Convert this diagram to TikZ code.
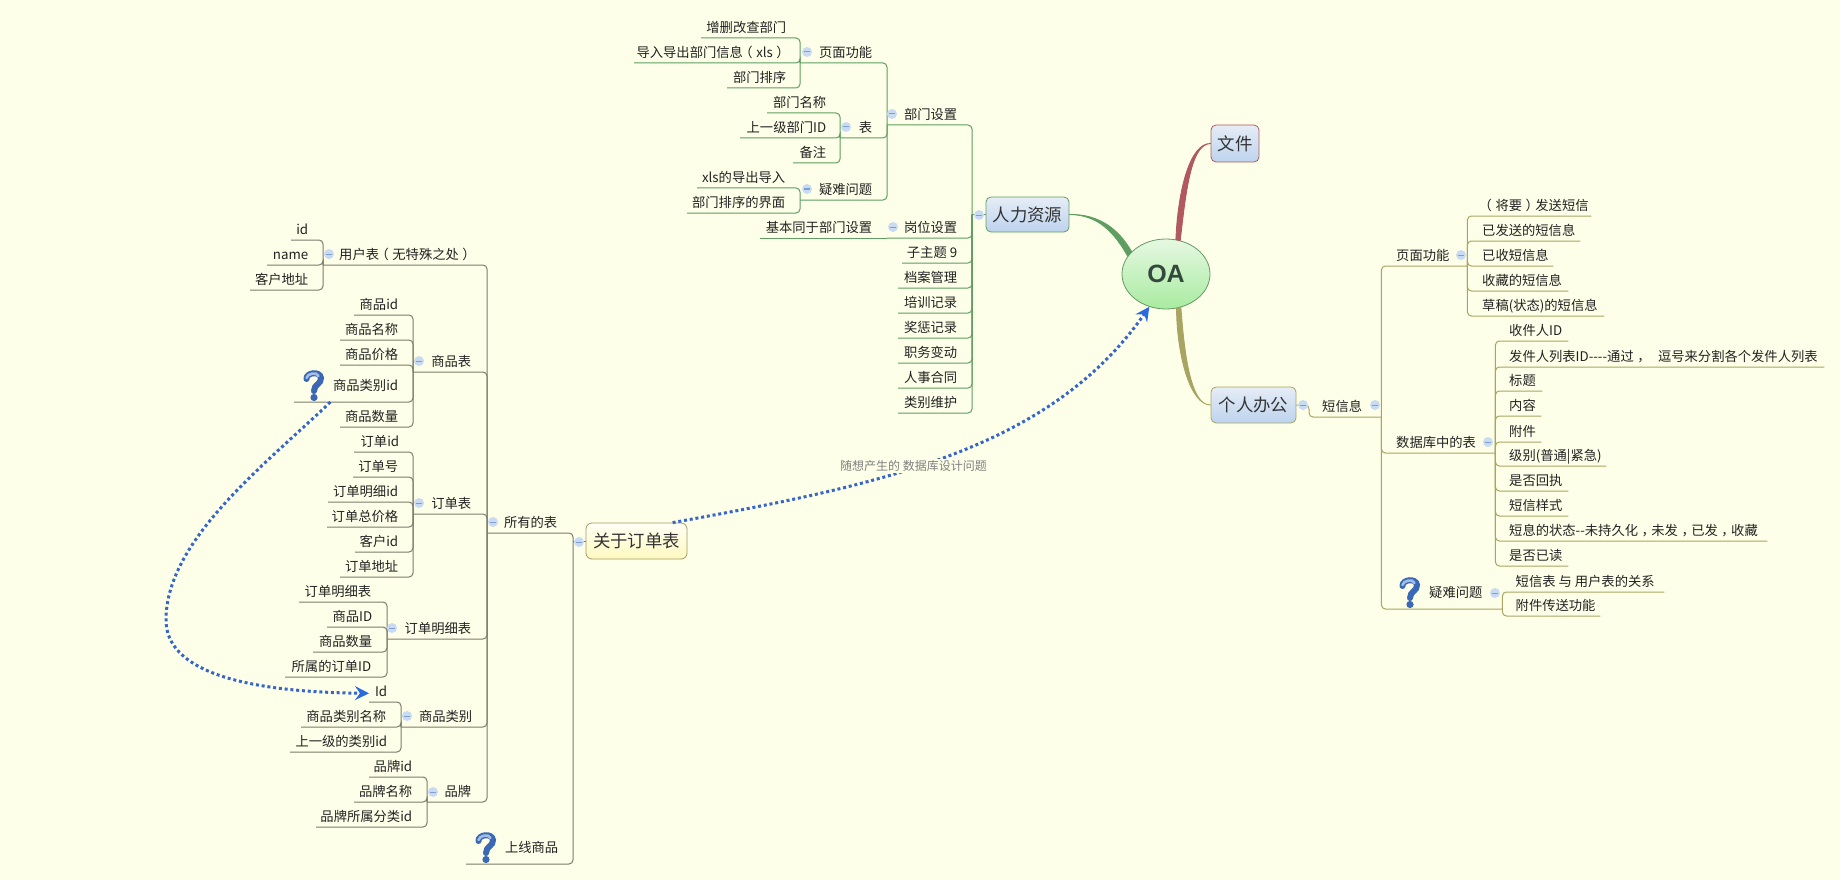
\documentclass[tikz,border=0pt]{standalone}
\usepackage{fontspec}
\usetikzlibrary{shapes.geometric,arrows.meta}
\newfontfamily\cjkf{Noto Sans CJK SC}
\newfontfamily\oaf{Liberation Sans}
\definecolor{bgc}{HTML}{FEFFE8}
\definecolor{grn}{HTML}{5F9E62}
\definecolor{olv}{HTML}{A8A562}
\definecolor{gry}{HTML}{7C7C6C}
\definecolor{redb}{HTML}{B05A60}
\definecolor{tpc}{HTML}{222222}
\definecolor{arrowc}{HTML}{3566C8}
\definecolor{tipc}{HTML}{2A6AE0}
\definecolor{glyphf}{HTML}{C9DBF3}
\definecolor{glyphl}{HTML}{7F9FD0}
\definecolor{boxt}{HTML}{E6EDF6}
\definecolor{boxb}{HTML}{BDD3EE}
\definecolor{oat}{HTML}{E6F8E2}
\definecolor{oab}{HTML}{A8EBA0}
\definecolor{oatx}{HTML}{33493C}
\definecolor{qdark}{HTML}{3A68B4}
\definecolor{qlight}{HTML}{A3BDE6}
\tikzset{
  topic/.style={inner sep=0pt,text height=12pt,text depth=5pt,text=tpc,font=\cjkf\fontsize{13.3pt}{16pt}\selectfont},
  conn/.style={line width=1pt,rounded corners=4pt},
  gconn/.style={conn,draw=grn},
  oconn/.style={conn,draw=olv},
  yconn/.style={conn,draw=gry},
  taper/.style={line width=0.9pt,line join=round},
  collapse/.style={circle,inner sep=0pt,minimum size=10pt,fill=glyphf,
    path picture={\draw[glyphl,line width=1pt] ([xshift=-2.6pt]path picture bounding box.center) -- ([xshift=2.6pt]path picture bounding box.center);}},
  bluebox/.style={rectangle,rounded corners=5pt,line width=0.8pt,inner sep=0pt,text=black!80,font=\cjkf\fontsize{17.4pt}{20pt}\selectfont,top color=boxt,bottom color=boxb},
  dotarrow/.style={draw=arrowc,line width=3pt,dash pattern=on 3pt off 2.8pt,-{Stealth[length=14pt,width=14pt,inset=5pt,color=tipc]}},
  qmark/.pic={
    \draw[line width=6pt,draw=qdark,line cap=round] (3.5,9) .. controls (3,2.5) and (17,0.5) .. (18,8) .. controls (18.5,14) and (11,14) .. (11,21);
    \draw[line width=2.6pt,draw=qlight,line cap=round] (3.5,8) .. controls (4,3.5) and (14,1.5) .. (15.5,6);
    \fill[qdark] (11,27.5) circle (3.6pt);
  }
}
\newcommand\LN[5]{\node[topic,anchor=south west] (#1) at (#2,#4) {\makebox[\dimexpr#3pt-#2pt\relax][r]{#5}};}
\newcommand\RN[6]{\node[topic,anchor=south west] (#1) at (#2,#5) {\makebox[\dimexpr#4pt-#2pt\relax][l]{\hspace*{\dimexpr#3pt-#2pt\relax}#6}};}
\newcommand\lpar{\kern-3.5pt（\kern3.5pt}
\newcommand\rpar{\kern3.5pt）\kern-3.5pt}
\newcommand\cma{\kern3.5pt，\kern-3.5pt}
\begin{document}
\begin{tikzpicture}[x=1pt,y=-1pt]
\fill[bgc] (0,0) rectangle (1840,880);
\useasboundingbox (0,0) rectangle (1840,880);

% central and main topics
\node[ellipse,minimum width=88pt,minimum height=70pt,inner sep=0pt,draw=gray!80!green,line width=0.8pt,top color=oat,bottom color=oab,text=oatx,font=\oaf\bfseries\fontsize{25pt}{28pt}\selectfont] (oa) at (1166,274) {OA};
\node[bluebox,draw=grn,minimum width=83pt,minimum height=35pt] (hr) at (1027.5,214.5) {人力资源};
\node[bluebox,draw=redb,minimum width=48pt,minimum height=37pt] (wj) at (1235,143.5) {文件};
\node[bluebox,draw=olv,minimum width=85pt,minimum height=36pt] (gr) at (1253.5,405) {个人办公};
\node[rectangle,rounded corners=6pt,line width=0.8pt,inner sep=0pt,draw=olv!80!gray,top color=yellow!4!white,bottom color=orange!20!yellow!25!white,text=black!80,font=\cjkf\fontsize{17.4pt}{20pt}\selectfont,minimum width=101pt,minimum height=36pt] (ob) at (636.5,541) {关于订单表};

\filldraw[grn,taper] (hr.east) .. controls (1098,214) and (1118,228) .. (oa.147) -- (oa.155) .. controls (1114,232) and (1098,214.8) .. (hr.east) -- cycle;
\filldraw[redb,taper] (wj.west) .. controls (1191,144) and (1186,190) .. (oa.67) -- (oa.74) .. controls (1178,190) and (1190,143) .. (wj.west) -- cycle;
\filldraw[olv,taper] (gr.west) .. controls (1190,406) and (1184,350) .. (oa.-66) -- (oa.-73) .. controls (1177,355) and (1190,405) .. (gr.west) -- cycle;

% human resources branch
\LN{za}{701}{786}{38}{增删改查部门}
\LN{zb}{634}{786}{63}{导入导出部门信息\lpar xls\rpar}
\LN{zc}{727}{786}{88}{部门排序}
\LN{ym}{800}{872}{63}{页面功能}
\LN{ba}{767}{826}{113}{部门名称}
\LN{bb}{740}{826}{138}{上一级部门ID}
\LN{bc}{793}{826}{163}{备注}
\LN{tb}{840}{872}{138}{表}
\LN{na}{697}{785}{188}{xls的导出导入}
\LN{nb}{687}{785}{213}{部门排序的界面}
\LN{nd}{800}{872}{200}{疑难问题}
\LN{bm}{887}{957}{125}{部门设置}
\LN{gj}{760}{872}{238}{基本同于部门设置}
\LN{gw}{887}{957}{238}{岗位设置}
\LN{hza}{902}{957}{263}{子主题 9}
\LN{hzb}{898}{957}{288}{档案管理}
\LN{hzc}{898}{957}{313}{培训记录}
\LN{hzd}{898}{957}{338}{奖惩记录}
\LN{hze}{898}{957}{363}{职务变动}
\LN{hzf}{898}{957}{388}{人事合同}
\LN{hzg}{898}{957}{413}{类别维护}
\coordinate (hrs) at (972,214.5);
\foreach \c in {za,zb,zc} \draw[gconn] (\c.south west) -| (ym.south west);
\foreach \c in {ba,bb,bc} \draw[gconn] (\c.south west) -| (tb.south west);
\foreach \c in {na,nb} \draw[gconn] (\c.south west) -| (nd.south west);
\foreach \c in {ym,tb,nd} \draw[gconn] (\c.south west) -| (bm.south west);
\draw[gconn] (gj.south west) -- (gw.south west);
\foreach \c in {bm,gw,hza,hzb,hzc,hzd,hze,hzf,hzg} \draw[gconn] (\c.south west) -| (hrs);
\draw[gconn] (hrs) -- (hr.west);

% personal office branch
\RN{dx}{1309}{1322}{1381}{417}{短信息}
\RN{pf}{1381}{1396}{1467}{266}{页面功能}
\RN{pa}{1467}{1482}{1591}{216}{\lpar 将要\rpar 发送短信}
\RN{pb}{1467}{1482}{1580}{241}{已发送的短信息}
\RN{pc}{1467}{1482}{1553}{266}{已收短信息}
\RN{pd}{1467}{1482}{1568}{291}{收藏的短信息}
\RN{pe}{1467}{1482}{1604}{316}{草稿(状态)的短信息}
\RN{db}{1381}{1396}{1495}{453}{数据库中的表}
\RN{da}{1495}{1509}{1568}{341}{收件人ID}
\RN{dc}{1495}{1509}{1824}{367}{发件人列表ID----通过\cma\hspace{8pt} 逗号来分割各个发件人列表}
\RN{dd}{1495}{1509}{1542}{391}{标题}
\RN{de}{1495}{1509}{1541}{416}{内容}
\RN{df}{1495}{1509}{1541}{442}{附件}
\RN{dg}{1495}{1509}{1606}{466}{级别(普通|紧急)}
\RN{dh}{1495}{1509}{1568}{491}{是否回执}
\RN{di}{1495}{1509}{1568}{516}{短信样式}
\RN{dj}{1495}{1509}{1767}{541}{短息的状态--未持久化\cma 未发\cma 已发\cma 收藏}
\RN{dk}{1495}{1509}{1568}{566}{是否已读}
\RN{qw}{1381}{1429}{1502}{609}{\raisebox{6pt}{疑难问题}}
\RN{qa}{1502}{1515.5}{1664}{592}{短信表 与 用户表的关系}
\RN{qb}{1502}{1515.5}{1600}{616}{附件传送功能}
\coordinate (grs) at (1309,405);
\foreach \c in {pa,pb,pc,pd,pe} \draw[oconn] (\c.south east) -| (pf.south east);
\foreach \c in {da,dc,dd,de,df,dg,dh,di,dj,dk} \draw[oconn] (\c.south east) -| (db.south east);
\foreach \c in {qa,qb} \draw[oconn] (\c.south east) -| (qw.south east);
\foreach \c in {pf,db,qw} \draw[oconn] (\c.south east) -| (dx.south east);
\draw[oconn] (dx.south east) -| (grs) -- (gr.east);

% order branch
\LN{ua}{291}{308}{240}{id}
\LN{ub}{267}{308}{265}{name}
\LN{uc}{250}{308}{290}{客户地址}
\LN{ut}{323}{472}{265}{用户表\lpar 无特殊之处\rpar}
\LN{sa}{354}{398}{315}{商品id}
\LN{sb}{340}{398}{340}{商品名称}
\LN{sc}{340}{398}{365}{商品价格}
\LN{sd}{294}{398}{402}{\raisebox{6pt}{商品类别id}}
\LN{se}{340}{398}{427}{商品数量}
\LN{st}{413}{471}{372}{商品表}
\LN{oa1}{354}{399}{452}{订单id}
\LN{oa2}{353}{398}{477}{订单号}
\LN{oa3}{328}{398}{502}{订单明细id}
\LN{oa4}{327}{398}{527}{订单总价格}
\LN{oa5}{355}{398}{552}{客户id}
\LN{oa6}{340}{398}{577}{订单地址}
\LN{ot}{413}{471}{514}{订单表}
\LN{ma}{299}{371}{602}{订单明细表}
\LN{mb}{327}{372}{627}{商品ID}
\LN{mc}{313}{372}{652}{商品数量}
\LN{md}{285}{371}{677}{所属的订单ID}
\LN{mt}{387}{471}{639}{订单明细表}
\LN{ca}{369}{387}{702}{Id}
\LN{cb}{301}{386}{727}{商品类别名称}
\LN{cc}{290}{387}{752}{上一级的类别id}
\LN{ct}{401}{472}{727}{商品类别}
\LN{ppa}{369}{412}{777}{品牌id}
\LN{ppb}{354}{412}{802}{品牌名称}
\LN{ppc}{316}{412}{827}{品牌所属分类id}
\LN{ppt}{427}{471}{802}{品牌}
\LN{all}{487}{557}{533}{所有的表}
\LN{sx}{466}{558}{864}{\raisebox{6pt}{上线商品}}
\coordinate (obs) at (573,541);
\foreach \c in {ua,ub,uc} \draw[yconn] (\c.south west) -| (ut.south west);
\foreach \c in {sa,sb,sc,sd,se} \draw[yconn] (\c.south west) -| (st.south west);
\foreach \c in {oa1,oa2,oa3,oa4,oa5,oa6} \draw[yconn] (\c.south west) -| (ot.south west);
\foreach \c in {ma,mb,mc,md} \draw[yconn] (\c.south west) -| (mt.south west);
\foreach \c in {ca,cb,cc} \draw[yconn] (\c.south west) -| (ct.south west);
\foreach \c in {ppa,ppb,ppc} \draw[yconn] (\c.south west) -| (ppt.south west);
\foreach \c in {ut,st,ot,mt,ct,ppt} \draw[yconn] (\c.south west) -| (all.south west);
\foreach \c in {all,sx} \draw[yconn] (\c.south west) -| (obs);
\draw[yconn] (obs) -- (ob.west);

% collapse marks
\foreach \n/\x/\y in {ga/807/52,gb/846/127,gc/807/189,gd/892/114,ge/893/227,gf/979/215,
  gg/1303/405,gh/1375/405,gi/1461/255,gj2/1488/442,gk/1495/593,
  gl/329/254,gm/419/361,gn/419/503,go/392/628,gp/407/716,gq/433/792,gr2/493/522,gs/579/542}
  \node[collapse] (\n) at (\x,\y) {};

% question marks
\pic at (303,370) {qmark};
\pic at (475,832) {qmark};
\pic at (1399,577) {qmark};

% relationship arrows
\draw[dotarrow] (ob.27) .. controls (880,485) and (1050,450) .. (oa.243);
\node[inner sep=1pt,fill=bgc,text=gray,font=\cjkf\fontsize{12pt}{14pt}\selectfont] (rl) at (913.5,466) {随想产生的 数据库设计问题};
\draw[dotarrow] (sd.south east) ++(-68,0) .. controls (265,465) and (166,540) .. (166,620) .. controls (166,670) and (240,692) .. (ca.west);
\end{tikzpicture}
\end{document}
